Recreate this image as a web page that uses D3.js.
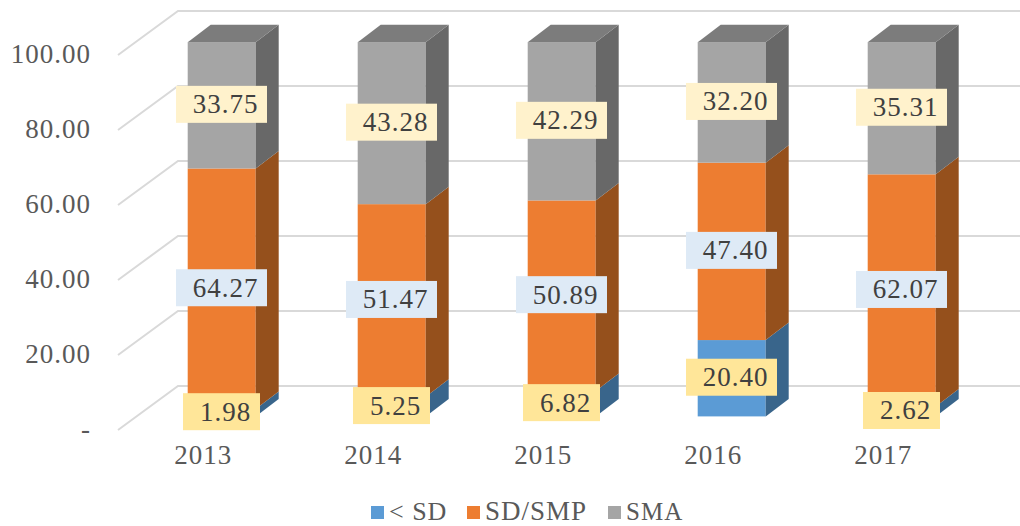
<!DOCTYPE html>
<html>
<head>
<meta charset="utf-8">
<style>
html, body { margin: 0; padding: 0; background: white; }
svg { display: block; }
text { font-family: "Liberation Serif", serif; letter-spacing: 1px; }
.axis text { fill: #595959; font-size: 27px; font-family: "Liberation Serif", serif; }
.axis path, .axis line { display: none; }
</style>
<script src="https://d3js.org/d3.v7.min.js"></script>
</head>
<body>
<svg id="chart" width="1020" height="526"></svg>
<script>
var years = ["2013", "2014", "2015", "2016", "2017"];
var seriesNames = ["< SD", "SD/SMP", "SMA"];
var belowSD = [1.98, 5.25, 6.82, 20.40, 2.62];
var sdSmp = [64.27, 51.47, 50.89, 47.40, 62.07];
var sma = [33.75, 43.28, 42.29, 32.20, 35.31];
var yTicks = [0, 20, 40, 60, 80, 100];

var front = ["#5b9bd5", "#ed7d31", "#a5a5a5"];
var side = ["#39658b", "#95501c", "#686868"];
var labelFill = ["#ffe699", "#deeaf6", "#fff2cc"];
var topFace = "#7c7c7c";

// fake 3d, offset from the front of the bar to its back
var dx = 23, dy = 17.5;

var svg = d3.select("#chart");

var x = d3.scaleBand().domain(years).range([136.7, 986.7]).paddingInner(0.6).paddingOuter(0.3);
var y = d3.scaleLinear().domain([0, 100]).range([416.4, 42.2]);
var yFront = d3.scaleLinear().domain([0, 100]).range([430, 55]);
var yBack = d3.scaleLinear().domain([0, 100]).range([386, 11]);

// gridlines: side wall then back wall
var grid = svg.append("g");
yTicks.forEach(function(t) {
	grid.append("path")
		.attr("d", d3.line()([[118, yFront(t)], [178, yBack(t)], [1020, yBack(t)]]))
		.attr("fill", "none")
		.attr("stroke", "#d9d9d9")
		.attr("stroke-width", 2);
});

var rows = years.map(function(d, i) {
	return { year: d, 0: belowSD[i], 1: sdSmp[i], 2: sma[i] };
});
var stacked = d3.stack().keys([0, 1, 2])(rows);

stacked.forEach(function(layer, s) {
	layer.forEach(function(d) {
		var x0 = x(d.data.year), x1 = x0 + x.bandwidth();
		var y0 = y(d[0]), y1 = y(d[1]);
		var g = svg.append("g");
		g.append("rect")
			.attr("x", x0).attr("y", y1)
			.attr("width", x.bandwidth()).attr("height", y0 - y1)
			.attr("fill", front[s]);
		g.append("path")
			.attr("d", d3.line()([[x1, y0], [x1, y1], [x1 + dx, y1 - dy], [x1 + dx, y0 - dy]]) + "Z")
			.attr("fill", side[s]);
		if (s == 2) {
			g.append("path")
				.attr("d", d3.line()([[x0, y1], [x0 + dx, y1 - dy], [x1 + dx, y1 - dy], [x1, y1]]) + "Z")
				.attr("fill", topFace);
		}
	});
});

// data labels go on top of every bar
stacked.forEach(function(layer, s) {
	layer.forEach(function(d) {
		var cx = x(d.data.year) + x.bandwidth() / 2 - 0.2;
		var cy = (y(d[0]) + y(d[1])) / 2 - 1;
		var val = d[1] - d[0];
		var w = val < 10 ? 77 : 91;
		svg.append("rect")
			.attr("x", cx - w / 2).attr("y", cy - 18.5)
			.attr("width", w).attr("height", 37)
			.attr("fill", labelFill[s]);
		svg.append("text")
			.attr("x", cx + 4).attr("y", cy + 9)
			.attr("text-anchor", "middle")
			.attr("fill", "#404040")
			.style("font-size", "27px")
			.text(val.toFixed(2));
	});
});

svg.append("g").attr("class", "axis")
	.attr("transform", "translate(100,-1)")
	.call(d3.axisLeft(yFront).tickValues(yTicks).tickSize(0).tickPadding(9)
		.tickFormat(function(t) { return t == 0 ? "-" : t.toFixed(2); }));

svg.append("g").attr("class", "axis")
	.attr("transform", "translate(-18.5,445)")
	.call(d3.axisBottom(x).tickSize(0).tickPadding(0));

// legend
var legendX = [371, 467, 608];
var legendSize = [26, 27, 25];
var legend = svg.append("g");
seriesNames.forEach(function(name, i) {
	legend.append("rect")
		.attr("x", legendX[i]).attr("y", 506)
		.attr("width", 13).attr("height", 13)
		.attr("fill", front[i]);
	legend.append("text")
		.attr("x", legendX[i] + 18).attr("y", 520)
		.attr("fill", "#595959")
		.style("font-size", legendSize[i] + "px")
		.text(name);
});
</script>
</body>
</html>
